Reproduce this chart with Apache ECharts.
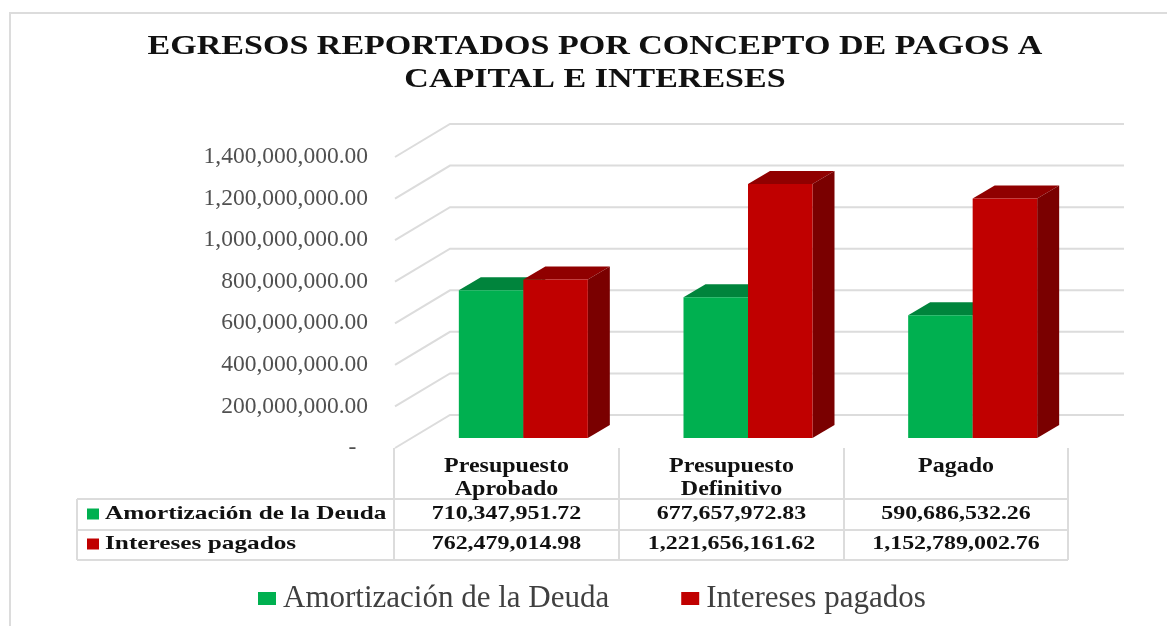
<!DOCTYPE html>
<html>
<head>
<meta charset="utf-8">
<title>Egresos reportados</title>
<script src="https://cdn.jsdelivr.net/npm/echarts@6/dist/echarts.min.js"></script>
<style>
  html, body { margin: 0; padding: 0; background: #fff; }
  #chart { width: 1167px; height: 626px; }
</style>
</head>
<body>
<div id="chart"></div>
<script>
// datos de la gráfica
const categories = ['Presupuesto\nAprobado', 'Presupuesto\nDefinitivo', 'Pagado']
const amortizacion = [710347951.72, 677657972.83, 590686532.26]
const intereses = [762479014.98, 1221656161.62, 1152789002.76]
const yTicks = [0, 200000000, 400000000, 600000000, 800000000, 1000000000, 1200000000, 1400000000]
const seriesNames = ['Amortización de la Deuda', 'Intereses pagados']
const titleLines = ['EGRESOS REPORTADOS POR CONCEPTO DE PAGOS A', 'CAPITAL E INTERESES']

const FONT = '"Liberation Serif", serif'
const GRID = { left: 395, right: 98, top: 157, bottom: 178 }
// desplazamiento de la pared del fondo respecto al plano frontal
const WALL = { dx: 55, dy: -33 }
// las barras quedan a media profundidad
const BAR_OFFSET = { dx: 16, dy: -10 }
const BAR_DEPTH = { dx: 22, dy: -13 }
const BAR_WIDTH = 64.5

const money = v => v.toLocaleString('en-US', { minimumFractionDigits: 2, maximumFractionDigits: 2 })

// líneas de división: diagonal en la pared lateral + línea de la pared del fondo
function renderGridLine(params, api) {
  const y = api.coord([0, api.value(0)])[1]
  const x0 = params.coordSys.x
  const x1 = x0 + params.coordSys.width
  return {
    type: 'polyline',
    silent: true,
    shape: { points: [[x0, y], [x0 + WALL.dx, y + WALL.dy], [x1 + WALL.dx, y + WALL.dy]] },
    style: { fill: 'none', stroke: '#dcdcdc', lineWidth: 2 }
  }
}

function renderBar(side, colors) {
  return function (params, api) {
    const top = api.coord([api.value(0), api.value(1)])
    const base = api.coord([api.value(0), 0])
    const cx = top[0] + BAR_OFFSET.dx + side * BAR_WIDTH / 2
    const l = cx - BAR_WIDTH / 2
    const r = cx + BAR_WIDTH / 2
    const t = top[1] + BAR_OFFSET.dy
    const b = base[1] + BAR_OFFSET.dy
    const dx = BAR_DEPTH.dx
    const dy = BAR_DEPTH.dy
    return {
      type: 'group',
      children: [
        { type: 'polygon', shape: { points: [[l, t], [r, t], [r + dx, t + dy], [l + dx, t + dy]] }, style: { fill: colors[1] } },
        { type: 'polygon', shape: { points: [[r, t], [r + dx, t + dy], [r + dx, b + dy], [r, b]] }, style: { fill: colors[2] } },
        { type: 'rect', shape: { x: l, y: t, width: BAR_WIDTH, height: b - t }, style: { fill: colors[0] } }
      ]
    }
  }
}

// texto estirado a lo ancho, como en el original
function wideText(text, x, y, align, font, scaleX, fill) {
  return {
    type: 'text', silent: true, x, y, scaleX,
    style: { text, font: font + ' ' + FONT, fill: fill || '#111', align, verticalAlign: 'middle' }
  }
}

// tabla de datos bajo el eje
function buildTable() {
  const xs = [394, 619, 844, 1068]
  const left = 77
  const rows = [530, 560]
  const head = 499
  const out = []
  const line = (x1, y1, x2, y2) => out.push({
    type: 'line', silent: true,
    shape: { x1, y1, x2, y2 },
    style: { stroke: '#dcdcdc', lineWidth: 2 }
  })
  xs.forEach(x => line(x, 448, x, rows[1]))
  line(left, head, left, rows[1])
  ;[head, rows[0], rows[1]].forEach(y => line(left, y, xs[3], y))

  categories.forEach((c, j) => {
    const cx = (xs[j] + xs[j + 1]) / 2
    c.split('\n').forEach((t, k) => out.push(wideText(t, cx, 467 + k * 23, 'center', 'bold 20px', 1.2)))
  })
  ;[amortizacion, intereses].forEach((vals, i) => {
    const y = i === 0 ? 514 : 544
    out.push({
      type: 'rect', silent: true,
      shape: { x: 87, y: y - 5.5, width: 12, height: 11 },
      style: { fill: i === 0 ? '#00b050' : '#c00000' }
    })
    out.push(wideText(seriesNames[i], 105, y, 'left', 'bold 19px', 1.33))
    vals.forEach((v, j) => out.push(wideText(money(v), (xs[j] + xs[j + 1]) / 2, y, 'center', 'bold 19px', 1.26)))
  })
  return out
}

const chart = echarts.init(document.getElementById('chart'))
chart.setOption({
  animation: false,
  backgroundColor: '#fff',
  grid: GRID,
  legend: {
    top: 583,
    left: 258,
    padding: 0,
    itemWidth: 18,
    itemHeight: 13,
    itemGap: 72,
    icon: 'rect',
    data: seriesNames,
    textStyle: { fontFamily: FONT, fontSize: 31, color: '#404040', padding: [0, 0, 0, 2] }
  },
  xAxis: {
    type: 'category',
    data: categories,
    axisTick: { show: false },
    axisLine: { show: false },
    axisLabel: { show: false }
  },
  yAxis: {
    type: 'value',
    min: 0,
    max: 1400000000,
    interval: 200000000,
    axisLine: { show: false },
    axisTick: { show: false },
    splitLine: { show: false },
    axisLabel: {
      margin: 27,
      fontFamily: FONT,
      fontSize: 23.5,
      color: '#505050',
      formatter: v => v === 0 ? '-  ' : money(v)
    }
  },
  series: [
    {
      type: 'custom',
      name: 'lineas',
      silent: true,
      z: 1,
      renderItem: renderGridLine,
      encode: { y: 0 },
      data: yTicks.map(v => [v])
    },
    {
      type: 'custom',
      name: seriesNames[0],
      itemStyle: { color: '#00b050' },
      z: 2,
      renderItem: renderBar(-1, ['#00b050', '#00843c', '#006b31']),
      encode: { x: 0, y: 1 },
      data: categories.map((c, i) => [i, amortizacion[i]])
    },
    {
      type: 'custom',
      name: seriesNames[1],
      itemStyle: { color: '#c00000' },
      z: 3,
      renderItem: renderBar(1, ['#c00000', '#900000', '#7a0000']),
      encode: { x: 0, y: 1 },
      data: categories.map((c, i) => [i, intereses[i]])
    }
  ],
  graphic: [
    // borde del área de la gráfica
    {
      type: 'polyline', silent: true,
      shape: { points: [[10, 626], [10, 13], [1167, 13]] },
      style: { fill: 'none', stroke: '#dcdcdc', lineWidth: 2 }
    }
  ]
    .concat(titleLines.map((t, i) => wideText(t, 595, 47 + i * 33, 'center', 'bold 27px', 1.26)))
    .concat(buildTable())
})
</script>
</body>
</html>
